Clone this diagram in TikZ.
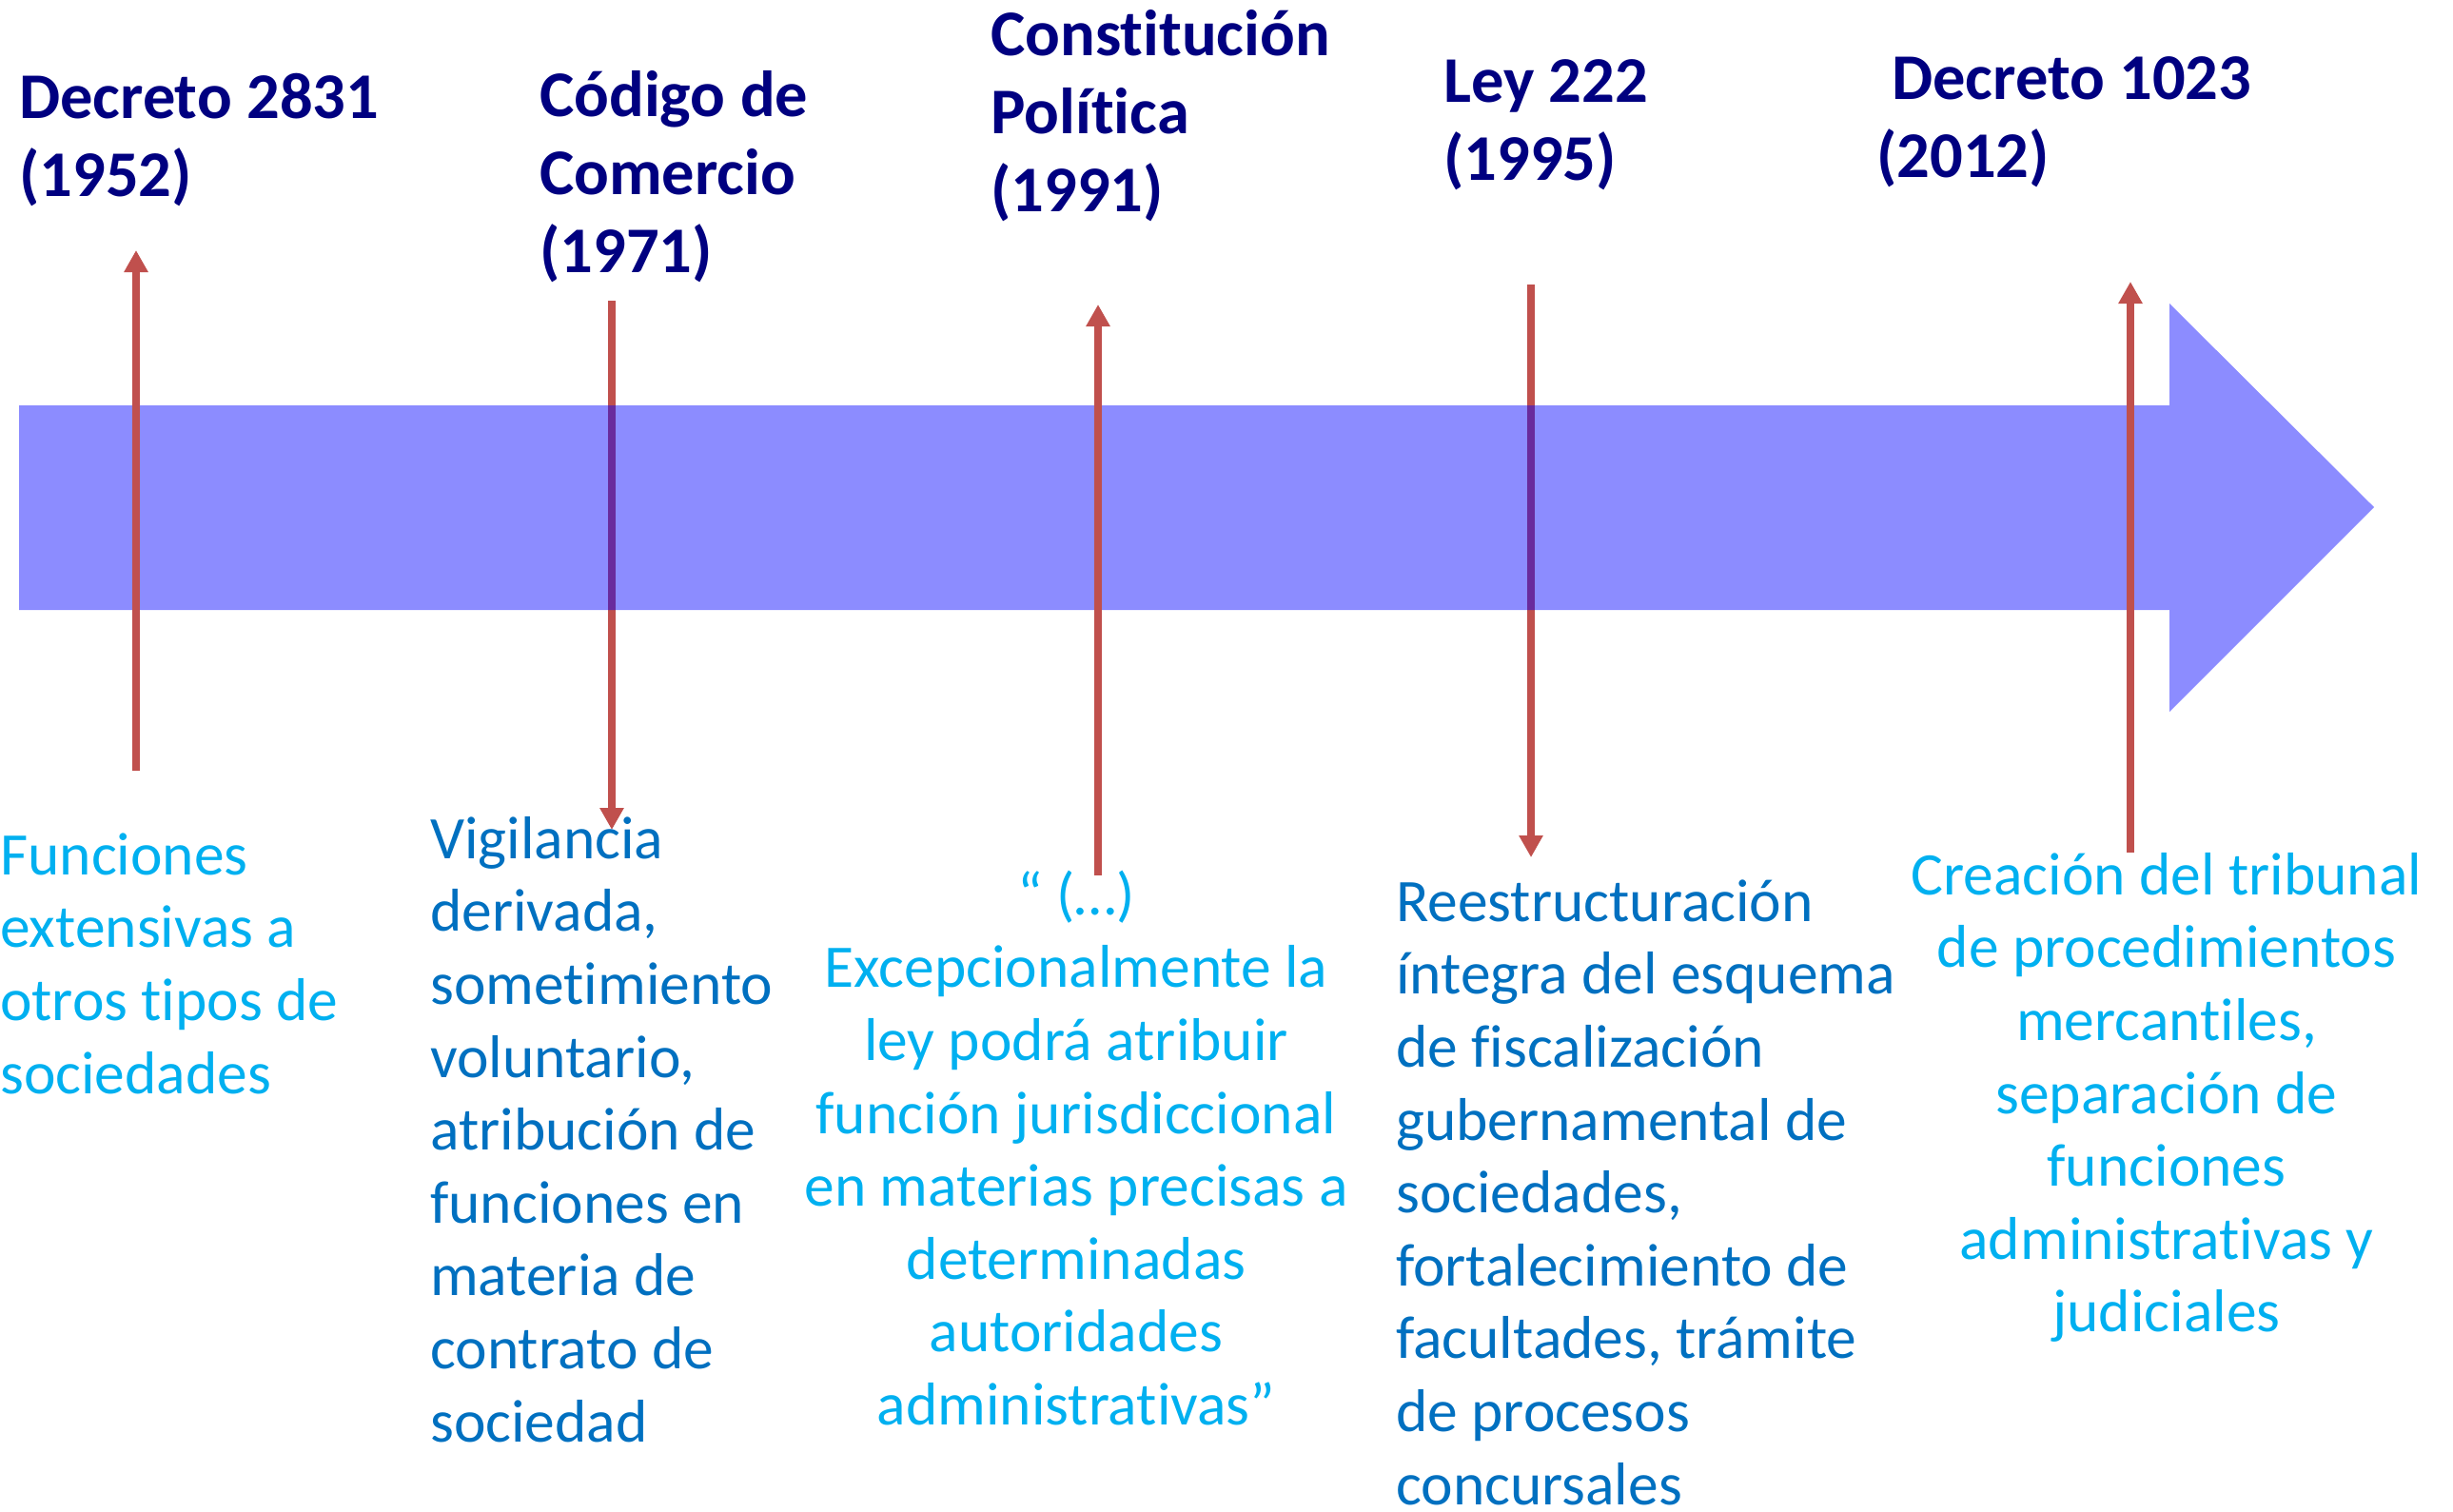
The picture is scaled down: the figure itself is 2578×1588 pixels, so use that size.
\documentclass[tikz,border=0pt]{standalone}
\usepackage{fontspec}
\setmainfont{Carlito}[Ligatures=NoCommon]
\usetikzlibrary{arrows.meta}
\definecolor{navy}{HTML}{000080}
\definecolor{lightblue}{HTML}{00B0F0}
\definecolor{midblue}{HTML}{0070C0}
\definecolor{redline}{HTML}{C0504D}
\tikzset{
  titletext/.style={inner sep=0pt, anchor=north west, align=left, text=navy,
    font=\fontsize{68.5}{82}\selectfont\bfseries},
  bodytext/.style={inner sep=0pt, anchor=north west, align=left,
    font=\fontsize{63.5}{76.6}\selectfont},
  bodycenter/.style={bodytext, anchor=north, align=center},
  redarrow/.style={draw=redline, line width=8pt,
    -{Triangle[width=24pt,length=23pt]}},
  bigarrow/.style={fill=blue, fill opacity=0.45, draw=none}
}
\newcommand{\topstrut}[1]{\rule{0pt}{#1pt}}
\begin{document}
\begin{tikzpicture}[x=1pt,y=-1pt]
\useasboundingbox (0,0) rectangle (2578,1588);

% arrow end points
\coordinate (a1s) at (143,810);  \coordinate (a1e) at (143,263);
\coordinate (a2s) at (643,316);  \coordinate (a2e) at (643,872);
\coordinate (a3s) at (1154,920); \coordinate (a3e) at (1154,320);
\coordinate (a4s) at (1609,299); \coordinate (a4e) at (1609,901);
\coordinate (a5s) at (2239,896); \coordinate (a5e) at (2239,296);

% down arrows (under the band)
\draw[redarrow] (a2s) -- (a2e);
\draw[redarrow] (a4s) -- (a4e);

% timeline band
\path[bigarrow] (20,426) -- (2280,426) -- (2280,319) -- (2495,533)
  -- (2280,748) -- (2280,641) -- (20,641) -- cycle;

% up arrows (over the band)
\draw[redarrow] (a1s) -- (a1e);
\draw[redarrow] (a3s) -- (a3e);
\draw[redarrow] (a5s) -- (a5e);

% titles (first baseline minus 70)
\node[titletext] (t1) at (20,124-70) {\topstrut{70}Decreto 2831\\(1952)};
\node[titletext] (t2) at (567,122-70) {\topstrut{70}Código de\\Comercio\\(1971)};
\node[titletext] (t3) at (1041,58-70) {\topstrut{70}Constitución\\Política\\(1991)};
\node[titletext] (t4) at (1517,107-70) {\topstrut{70}Ley 222\\(1995)};
\node[titletext] (t5) at (1988,104-70) {\topstrut{70}Decreto 1023\\\hspace*{-16pt}(2012)};

% descriptions (first baseline minus 64)
\node[bodytext, text=lightblue] (d1) at (0,919-64)
  {\topstrut{64}Funciones\\extensivas a\\otros tipos de\\sociedades};
\node[bodytext, text=midblue] (d2) at (452,902-64)
  {\topstrut{64}Vigilancia\\derivada,\\sometimiento\\voluntario,\\atribución de\\funciones en\\materia de\\contrato de\\sociedad};
\node[bodycenter, text=lightblue] (d3) at (1131,961-64)
  {\topstrut{64}“ (…)\\Excepcionalmente la\\ley podrá atribuir\\función jurisdiccional\\en materias precisas a\\determinadas\\autoridades\\administrativas”};
\node[bodytext, text=midblue] (d4) at (1467,968-64)
  {\topstrut{64}Reestructuración\\íntegra del esquema\\de fiscalización\\gubernamental de\\sociedades,\\fortalecimiento de\\facultades, trámite\\de procesos\\concursales};
\node[bodycenter, text=lightblue] (d5) at (2277,940-64)
  {\topstrut{64}Creación del tribunal\\de procedimientos\\mercantiles,\\separación de\\funciones\\administrativas y\\judiciales};
\end{tikzpicture}
\end{document}
